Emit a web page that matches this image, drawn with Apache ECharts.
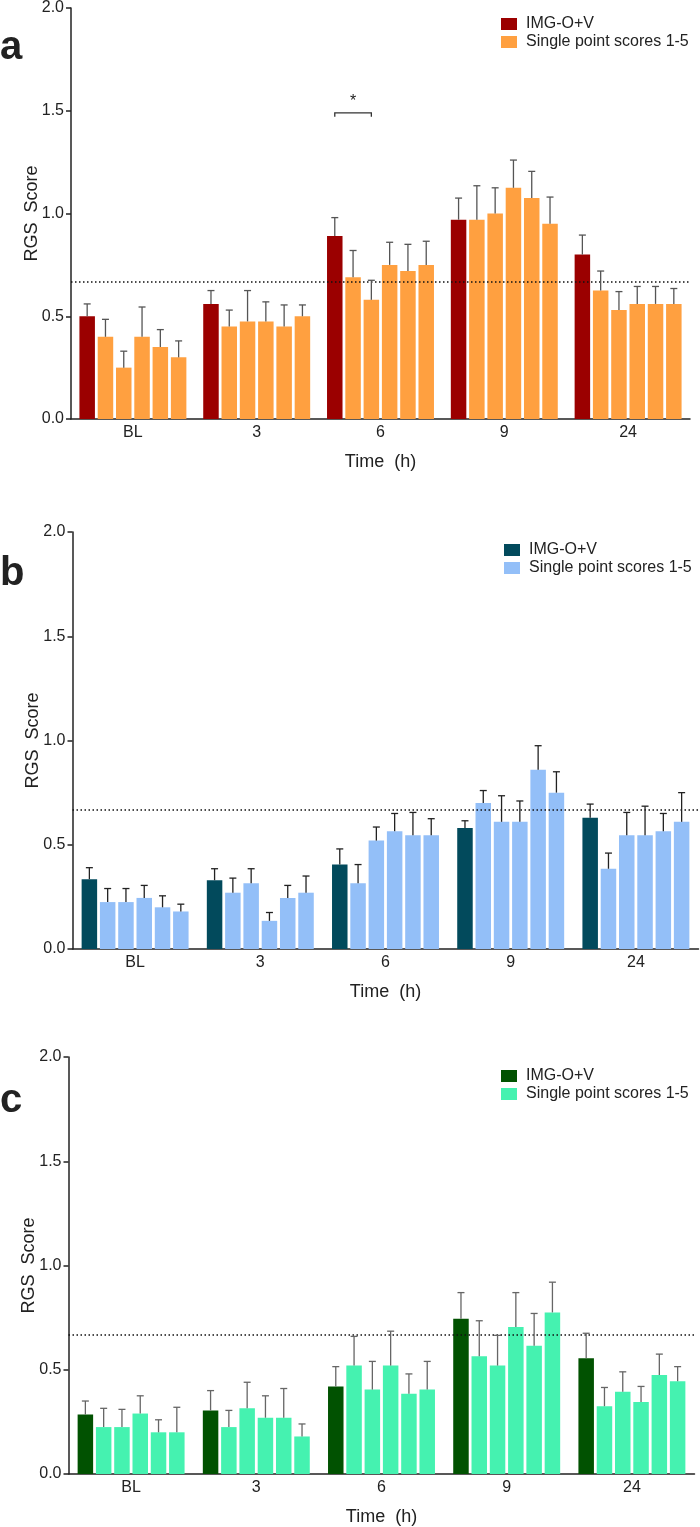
<!DOCTYPE html>
<html>
<head>
<meta charset="utf-8">
<script src="https://cdn.jsdelivr.net/npm/echarts@6/dist/echarts.min.js"></script>
<style>html,body{margin:0;padding:0;background:#fff}#chart{width:700px;height:1527px}</style>
</head>
<body>
<div id="chart"></div>
<script>
// ---- data ----
const categories = ['BL', '3', '6', '9', '24'];
const yTicks = [0, 0.5, 1.0, 1.5, 2.0];
const threshold = 0.67;
const legendNames = ['IMG-O+V', 'Single point scores 1-5'];

// Panel a: mean values, series 0 = IMG-O+V, series 1-5 = single point scores 1..5
const aMean0 = [0.50, 0.56, 0.89, 0.97, 0.80];
const aMean1 = [0.40, 0.45, 0.69, 0.97, 0.625];
const aMean2 = [0.25, 0.475, 0.58, 1.00, 0.53];
const aMean3 = [0.40, 0.475, 0.75, 1.125, 0.56];
const aMean4 = [0.35, 0.45, 0.72, 1.075, 0.56];
const aMean5 = [0.30, 0.50, 0.75, 0.95, 0.56];
const aErr0 = [0.06, 0.065, 0.09, 0.105, 0.095];
const aErr1 = [0.085, 0.08, 0.13, 0.165, 0.095];
const aErr2 = [0.08, 0.15, 0.095, 0.125, 0.09];
const aErr3 = [0.145, 0.095, 0.11, 0.135, 0.085];
const aErr4 = [0.085, 0.105, 0.13, 0.13, 0.085];
const aErr5 = [0.08, 0.055, 0.115, 0.13, 0.075];
// significance bracket: [category index, from series, to series, y level]
const aSignificance = [[2, 0, 2, 1.49]];

// Panel b
const bMean0 = [0.335, 0.33, 0.405, 0.58, 0.63];
const bMean1 = [0.225, 0.27, 0.315, 0.70, 0.385];
const bMean2 = [0.225, 0.315, 0.52, 0.61, 0.545];
const bMean3 = [0.245, 0.135, 0.565, 0.61, 0.545];
const bMean4 = [0.20, 0.245, 0.545, 0.86, 0.565];
const bMean5 = [0.18, 0.27, 0.545, 0.75, 0.61];
const bErr0 = [0.055, 0.055, 0.075, 0.035, 0.065];
const bErr1 = [0.065, 0.07, 0.09, 0.06, 0.075];
const bErr2 = [0.065, 0.07, 0.065, 0.125, 0.11];
const bErr3 = [0.06, 0.04, 0.085, 0.10, 0.14];
const bErr4 = [0.055, 0.06, 0.11, 0.115, 0.085];
const bErr5 = [0.035, 0.08, 0.08, 0.10, 0.14];

// Panel c
const cMean0 = [0.285, 0.305, 0.42, 0.745, 0.555];
const cMean1 = [0.225, 0.225, 0.52, 0.565, 0.325];
const cMean2 = [0.225, 0.315, 0.405, 0.52, 0.395];
const cMean3 = [0.29, 0.27, 0.52, 0.705, 0.345];
const cMean4 = [0.20, 0.27, 0.385, 0.615, 0.475];
const cMean5 = [0.20, 0.18, 0.405, 0.775, 0.445];
const cErr0 = [0.065, 0.095, 0.095, 0.125, 0.12];
const cErr1 = [0.09, 0.08, 0.14, 0.17, 0.09];
const cErr2 = [0.085, 0.125, 0.135, 0.145, 0.095];
const cErr3 = [0.085, 0.105, 0.165, 0.165, 0.075];
const cErr4 = [0.06, 0.14, 0.095, 0.155, 0.10];
const cErr5 = [0.12, 0.06, 0.135, 0.145, 0.07];

// ---- layout / style ----
const FONT = '"Liberation Sans", Arial, Helvetica, sans-serif';
const TXT = '#222';
const BAR_W = 15.5;
const BAR_GAP = 0.18;
const PITCH = BAR_W * (1 + BAR_GAP);

const panels = [
  { key: 'a', means: [aMean0, aMean1, aMean2, aMean3, aMean4, aMean5], errs: [aErr0, aErr1, aErr2, aErr3, aErr4, aErr5],
    dark: '#9b0000', light: '#ffa040', errColor: '#555', grid: { left: 71, top: 7, width: 619, height: 412 },
    legend: { left: 501, top: 16 }, letterTop: 28, sig: aSignificance },
  { key: 'b', means: [bMean0, bMean1, bMean2, bMean3, bMean4, bMean5], errs: [bErr0, bErr1, bErr2, bErr3, bErr4, bErr5],
    dark: '#024a5c', light: '#93bff8', errColor: '#222', grid: { left: 72.5, top: 532, width: 626, height: 417 },
    legend: { left: 504, top: 542 }, letterTop: 554, sig: [] },
  { key: 'c', means: [cMean0, cMean1, cMean2, cMean3, cMean4, cMean5], errs: [cErr0, cErr1, cErr2, cErr3, cErr4, cErr5],
    dark: '#015201', light: '#45f2b0', errColor: '#666', grid: { left: 68.5, top: 1057, width: 626, height: 417 },
    legend: { left: 501, top: 1068 }, letterTop: 1081, sig: [] }
];

const option = {
  animation: false,
  backgroundColor: '#fff',
  textStyle: { fontFamily: FONT },
  grid: [], xAxis: [], yAxis: [], legend: [], series: [], graphic: []
};

panels.forEach((p, gi) => {
  option.grid.push(Object.assign({ containLabel: false }, p.grid));
  option.xAxis.push({
    type: 'category', gridIndex: gi, data: categories,
    axisLine: { lineStyle: { color: TXT, width: 1.5 } },
    axisTick: { alignWithLabel: true, length: 5, lineStyle: { color: TXT, width: 1.5 } },
    axisLabel: { fontSize: 16, color: TXT, margin: 6, fontFamily: FONT },
    name: 'Time  (h)', nameLocation: 'middle', nameGap: 34, nameMoveOverlap: false,
    nameTextStyle: { fontSize: 18, color: TXT, fontFamily: FONT }
  });
  option.yAxis.push({
    type: 'value', gridIndex: gi, min: yTicks[0], max: yTicks[yTicks.length - 1], interval: yTicks[1] - yTicks[0],
    splitLine: { show: false },
    axisLine: { show: true, lineStyle: { color: TXT, width: 1.5 } },
    axisTick: { show: true, length: 5, lineStyle: { color: TXT, width: 1.5 } },
    axisLabel: { fontSize: 16, color: TXT, margin: 7, fontFamily: FONT, formatter: v => v.toFixed(1) },
    name: 'RGS  Score', nameLocation: 'middle', nameGap: 30, nameMoveOverlap: false,
    nameTextStyle: { fontSize: 18, color: TXT, fontFamily: FONT }
  });
  const nDark = p.key + '|' + legendNames[0];
  const nLight = p.key + '|' + legendNames[1];
  option.legend.push({
    orient: 'vertical', left: p.legend.left, top: p.legend.top, padding: 0,
    itemWidth: 16, itemHeight: 12, itemGap: 2, icon: 'rect',
    data: [{ name: nDark, itemStyle: { color: p.dark } }, { name: nLight, itemStyle: { color: p.light } }],
    formatter: n => n.split('|')[1],
    textStyle: { fontSize: 16, color: TXT, fontFamily: FONT, lineHeight: 13, padding: [0, 0, 0, 4] },
    selectedMode: false
  });
  const errData = [];
  p.means.forEach((arr, si) => {
    const s = {
      type: 'bar', name: si === 0 ? nDark : nLight, xAxisIndex: gi, yAxisIndex: gi,
      data: arr, barWidth: BAR_W, barGap: (BAR_GAP * 100) + '%',
      itemStyle: { color: si === 0 ? p.dark : p.light }, silent: true
    };
    if (si === 0) {
      s.markLine = {
        silent: true, symbol: ['none', 'none'], label: { show: false },
        lineStyle: { type: [1.5, 2.5], color: '#111', width: 1.5 },
        data: [{ yAxis: threshold }]
      };
    }
    option.series.push(s);
    arr.forEach((m, ci) => errData.push([ci, si, m, p.errs[si][ci]]));
  });
  const ec = p.errColor;
  option.series.push({
    type: 'custom', xAxisIndex: gi, yAxisIndex: gi, silent: true, z: 5,
    data: errData, encode: { x: 0, y: 2 },
    renderItem: (params, api) => {
      const ci = api.value(0), si = api.value(1), m = api.value(2), e = api.value(3);
      const p0 = api.coord([ci, m]), p1 = api.coord([ci, m + e]);
      const x = p0[0] + (si - 2.5) * PITCH;
      return { type: 'group', children: [
        { type: 'line', shape: { x1: x, y1: p0[1], x2: x, y2: p1[1] }, style: { stroke: ec, lineWidth: 1.3 } },
        { type: 'line', shape: { x1: x - 3.5, y1: p1[1], x2: x + 3.5, y2: p1[1] }, style: { stroke: ec, lineWidth: 1.3 } }
      ] };
    }
  });
  if (p.sig.length) {
    option.series.push({
      type: 'custom', xAxisIndex: gi, yAxisIndex: gi, silent: true, z: 5,
      data: p.sig, encode: { x: 0, y: 3 },
      renderItem: (params, api) => {
        const ci = api.value(0), s0 = api.value(1), s1 = api.value(2), yv = api.value(3);
        const c = api.coord([ci, yv]);
        const x0 = c[0] + (s0 - 2.5) * PITCH, x1 = c[0] + (s1 - 2.5) * PITCH, y = c[1];
        return { type: 'group', children: [
          { type: 'polyline', shape: { points: [[x0, y + 4], [x0, y], [x1, y], [x1, y + 4]] }, style: { stroke: '#333', lineWidth: 1.3, fill: null } },
          { type: 'text', x: (x0 + x1) / 2, y: y - 3, style: { text: '*', fontSize: 16, fontFamily: FONT, fill: TXT, align: 'center', verticalAlign: 'bottom' } }
        ] };
      }
    });
  }
  option.graphic.push({
    type: 'text', left: 0, top: p.letterTop,
    style: { text: p.key, fontSize: 40, fontWeight: 'bold', fontFamily: FONT, fill: TXT }
  });
});

const chart = echarts.init(document.getElementById('chart'), null, { renderer: 'canvas' });
chart.setOption(option);
</script>
</body>
</html>
